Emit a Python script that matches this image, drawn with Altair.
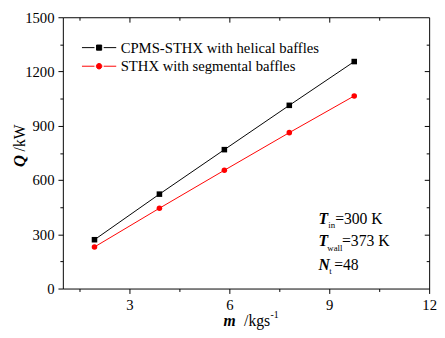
import altair as alt
import pandas as pd

# ---- data ----
m_flow = [1.95, 3.9, 5.85, 7.8, 9.75]
q_helical = [270, 522, 768, 1013, 1255]
q_segmental = [230, 444, 654, 862, 1065]
series_names = ["CPMS-STHX with helical baffles", "STHX with segmental baffles"]
series_colors = ["#000000", "#ff0000"]
x_major = [3, 6, 9, 12]
x_minor = [1.5, 4.5, 7.5, 10.5]
y_major = [0, 300, 600, 900, 1200, 1500]
y_minor = [150, 450, 750, 1050, 1350]
y_title = ["Q", "/kW"]
x_title = ["m", "/kgs", "-1"]
annot_main = ["T", "T", "N"]
annot_sub = ["in", "wall", "t"]
annot_rest = ["=300 K", "=373 K", "=48"]

df = pd.DataFrame({
    "m": m_flow * 2,
    "q": q_helical + q_segmental,
    "series": [series_names[0]] * len(m_flow) + [series_names[1]] * len(m_flow),
})

FONT = "Liberation Serif"
xs = alt.Scale(domain=[1, 12], nice=False, zero=False)
ys = alt.Scale(domain=[0, 1500], nice=False)
cs = alt.Scale(domain=series_names, range=series_colors)

legend_paths = [
    "M-1,0H-0.27M0.27,0H1M-0.15,-0.15H0.15V0.15H-0.15Z",
    "M-1,0H-0.27M0.27,0H1M0.16,0A0.16,0.16 0 1,1 -0.16,0A0.16,0.16 0 1,1 0.16,0Z",
]


def ax(values, orient, size, labels=True, offset=0):
    kw = dict(values=values, orient=orient, tickSize=size, labels=labels,
              domain=False, grid=False, title=None, ticks=True,
              tickColor="black", tickWidth=1)
    if offset:
        kw["offset"] = offset
    if labels:
        kw.update(labelFont=FONT, labelFontSize=15, labelColor="black",
                  labelPadding=4, labelFlush=False, format="d")
    return alt.Axis(**kw)


def X(axis):
    return alt.X("m:Q", scale=xs, axis=axis)


def Y(axis):
    return alt.Y("q:Q", scale=ys, axis=axis)


base = alt.Chart(df)

lines = base.mark_line(strokeWidth=1).encode(
    x=X(ax(x_major, "bottom", 5)),
    y=Y(ax(y_major, "left", 5)),
    color=alt.Color("series:N", scale=cs, legend=None),
)

points = base.mark_point(filled=True, size=32, opacity=1).encode(
    x=X(ax(x_minor, "bottom", 3, False)),
    y=Y(ax(y_minor, "left", 3, False)),
    color=alt.Color("series:N", scale=cs, legend=None),
    shape=alt.Shape("series:N", scale=alt.Scale(domain=series_names, range=["square", "circle"]), legend=None),
)

frame_major = base.mark_point().transform_filter("datum.q < 0").encode(
    x=X(ax(x_major[:-1], "top", 5, False, -5)),
    y=Y(ax(y_major[1:-1], "right", 5, False, -5)),
)
frame_minor = base.mark_point().transform_filter("datum.q < 0").encode(
    x=X(ax(x_minor, "top", 3, False, -3)),
    y=Y(ax(y_minor, "right", 3, False, -3)),
)

leg = alt.Legend(title=None, orient="none", legendX=19, legendY=23,
                 symbolSize=1225, symbolStrokeWidth=1, symbolOpacity=1,
                 labelFont=FONT, labelFontSize=15, labelColor="black",
                 labelOffset=4, clipHeight=16, rowPadding=3, padding=0,
                 labelLimit=400)

legend_layer = base.mark_point(filled=True, size=1225).transform_filter("datum.q < 0").encode(
    x=alt.X("m:Q", scale=xs, axis=None),
    y=alt.Y("q:Q", scale=ys, axis=None),
    fill=alt.Fill("series:N", scale=cs, legend=leg),
    stroke=alt.Stroke("series:N", scale=cs, legend=leg),
    shape=alt.Shape("series:N", scale=alt.Scale(domain=series_names, range=legend_paths), legend=leg),
)


def txt(text, x, y, size=15, bi=False, angle=0):
    mk = dict(font=FONT, fontSize=size, color="black", align="left", baseline="alphabetic")
    if bi:
        mk.update(fontStyle="italic", fontWeight="bold")
    if angle:
        mk["angle"] = angle
    return alt.Chart(pd.DataFrame({"t": [text]})).mark_text(**mk).encode(
        x=alt.value(x), y=alt.value(y), text="t:N")


texts = [
    txt(y_title[0], -39, 153, 17, True, 270),
    txt(y_title[1], -39, 137, 16, False, 270),
    txt(x_title[0], 164, 315, 16, True),
    txt(x_title[1], 185, 315, 16),
    txt(x_title[2], 212, 307, 10),
]
rows_y = [211, 234, 258]
ax0 = 261
sub_x = [ax0 + 10, ax0 + 9, ax0 + 11]
rest_x = [ax0 + 17, ax0 + 24, ax0 + 16]
for i in range(3):
    texts.append(txt(annot_main[i], ax0, rows_y[i], 16, True))
    texts.append(txt(annot_sub[i], sub_x[i], rows_y[i] + 4.5, 9))
    texts.append(txt(annot_rest[i], rest_x[i], rows_y[i], 16))

chart = alt.layer(lines, points, frame_major, frame_minor, legend_layer, *texts).resolve_scale(
    shape="independent", fill="independent", stroke="independent"
).resolve_axis(x="independent", y="independent").properties(
    width=374, height=277,
    autosize=alt.AutoSizeParams(type="none"),
    padding={"left": 56, "top": 6, "right": 8, "bottom": 45},
).configure_view(stroke="black", strokeWidth=1).configure_axis(
    labelFont=FONT, labelColor="black"
)

chart.save("out.html", embed_options={"renderer": "svg", "actions": False})
